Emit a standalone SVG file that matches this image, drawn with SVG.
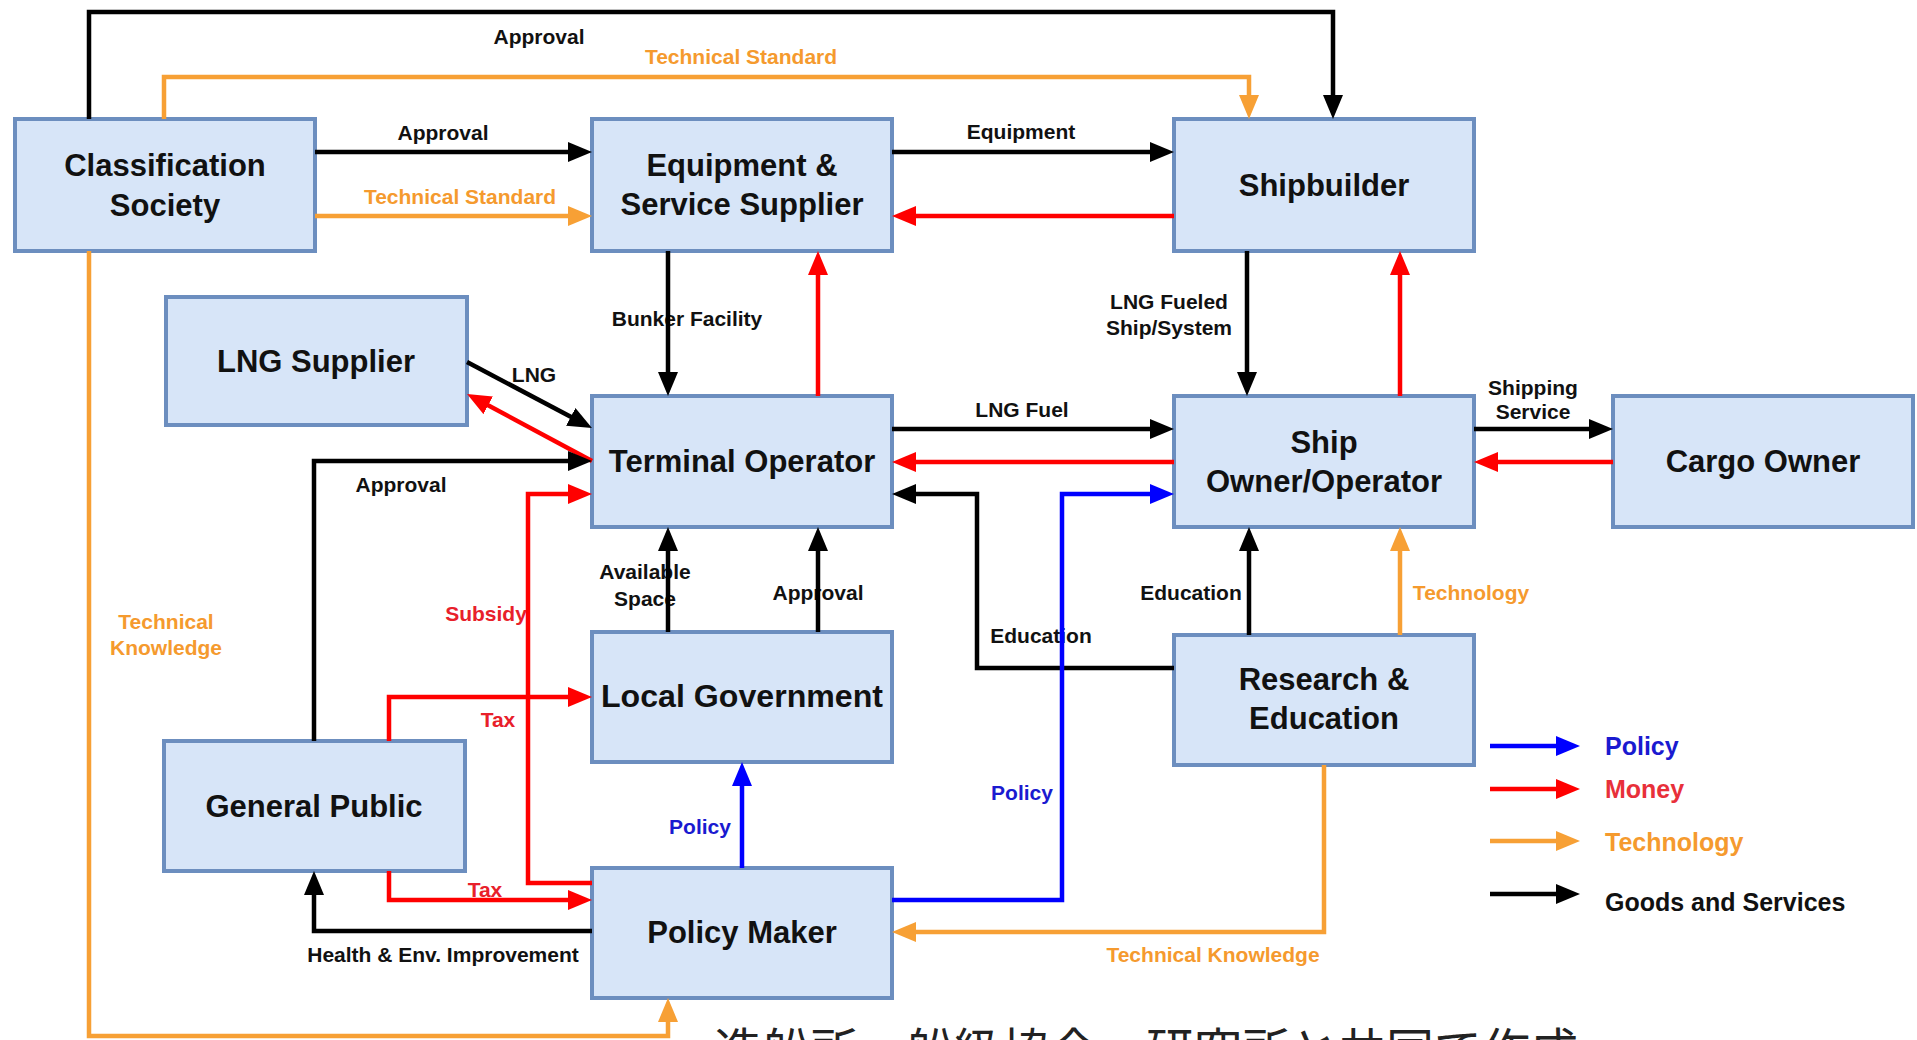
<svg xmlns="http://www.w3.org/2000/svg" width="1917" height="1040" viewBox="0 0 1917 1040">
<style>
.node rect{fill:#d7e5f8;stroke:#6c8ebf;stroke-width:4}
.nt{font-family:"Liberation Sans",Arial,sans-serif;font-weight:bold;font-size:31px;fill:#111;text-anchor:middle}
.ln{fill:none;stroke-width:4.5;stroke-linejoin:miter}
.k{stroke:#000;marker-end:url(#ak)}
.r{stroke:#ff0000;marker-end:url(#ar)}
.b{stroke:#0000ff;marker-end:url(#ab)}
.o{stroke:#f7a035;marker-end:url(#ao)}
.lb{font-family:"Liberation Sans",Arial,sans-serif;font-weight:bold;font-size:21px;text-anchor:middle}
.tk{fill:#111}.tr{fill:#e8202a}.tb{fill:#1a1ad0}.to{fill:#f59a2e}
.lg{font-family:"Liberation Sans",Arial,sans-serif;font-weight:bold;font-size:25px}
</style>
<defs>
<marker id="ak" markerUnits="userSpaceOnUse" markerWidth="24" markerHeight="20" refX="16" refY="10" orient="auto"><path d="M0,0 L24,10 L0,20 z" fill="#000"/></marker>
<marker id="ar" markerUnits="userSpaceOnUse" markerWidth="24" markerHeight="20" refX="16" refY="10" orient="auto"><path d="M0,0 L24,10 L0,20 z" fill="#ff0000"/></marker>
<marker id="ab" markerUnits="userSpaceOnUse" markerWidth="24" markerHeight="20" refX="16" refY="10" orient="auto"><path d="M0,0 L24,10 L0,20 z" fill="#0000ff"/></marker>
<marker id="ao" markerUnits="userSpaceOnUse" markerWidth="24" markerHeight="20" refX="16" refY="10" orient="auto"><path d="M0,0 L24,10 L0,20 z" fill="#f7a035"/></marker>
</defs>
<rect x="0" y="0" width="1917" height="1040" fill="#ffffff"/>

<g id="nodes">
<g id="classification-society" class="node"><rect x="15" y="119" width="300" height="132"/><text class="nt" x="165" y="176">Classification</text><text class="nt" x="165" y="216">Society</text></g>
<g id="equipment-supplier" class="node"><rect x="592" y="119" width="300" height="132"/><text class="nt" x="742" y="176">Equipment &amp;</text><text class="nt" x="742" y="215">Service Supplier</text></g>
<g id="shipbuilder" class="node"><rect x="1174" y="119" width="300" height="132"/><text class="nt" x="1324" y="196">Shipbuilder</text></g>
<g id="lng-supplier" class="node"><rect x="166" y="297" width="301" height="128"/><text class="nt" x="316" y="372">LNG Supplier</text></g>
<g id="terminal-operator" class="node"><rect x="592" y="396" width="300" height="131"/><text class="nt" x="742" y="472">Terminal Operator</text></g>
<g id="ship-owner" class="node"><rect x="1174" y="396" width="300" height="131"/><text class="nt" x="1324" y="453">Ship</text><text class="nt" x="1324" y="492">Owner/Operator</text></g>
<g id="cargo-owner" class="node"><rect x="1613" y="396" width="300" height="131"/><text class="nt" x="1763" y="472">Cargo Owner</text></g>
<g id="local-government" class="node"><rect x="592" y="632" width="300" height="130"/><text class="nt" x="742" y="707" textLength="282" lengthAdjust="spacingAndGlyphs">Local Government</text></g>
<g id="research-education" class="node"><rect x="1174" y="635" width="300" height="130"/><text class="nt" x="1324" y="690">Research &amp;</text><text class="nt" x="1324" y="729">Education</text></g>
<g id="general-public" class="node"><rect x="164" y="741" width="301" height="130"/><text class="nt" x="314" y="817">General Public</text></g>
<g id="policy-maker" class="node"><rect x="592" y="868" width="300" height="130"/><text class="nt" x="742" y="943">Policy Maker</text></g>
</g>

<g id="connectors">
<g id="edge-labels">
<text class="lb tk" x="539" y="44">Approval</text>
<text class="lb to" x="741" y="64">Technical Standard</text>
<text class="lb tk" x="443" y="140">Approval</text>
<text class="lb to" x="460" y="204">Technical Standard</text>
<text class="lb tk" x="1021" y="139">Equipment</text>
<text class="lb tk" x="687" y="326">Bunker Facility</text>
<text class="lb tk" x="1169" y="309">LNG Fueled</text>
<text class="lb tk" x="1169" y="335">Ship/System</text>
<text class="lb tk" x="534" y="382">LNG</text>
<text class="lb tk" x="1022" y="417">LNG Fuel</text>
<text class="lb tk" x="1533" y="395">Shipping</text>
<text class="lb tk" x="1533" y="419">Service</text>
<text class="lb tk" x="401" y="492">Approval</text>
<text class="lb tk" x="645" y="579">Available</text>
<text class="lb tk" x="645" y="606">Space</text>
<text class="lb tk" x="818" y="600">Approval</text>
<text class="lb tk" x="1041" y="643">Education</text>
<text class="lb tk" x="1191" y="600">Education</text>
<text class="lb to" x="1471" y="600">Technology</text>
<text class="lb tr" x="486" y="621">Subsidy</text>
<text class="lb to" x="166" y="629">Technical</text>
<text class="lb to" x="166" y="655">Knowledge</text>
<text class="lb tr" x="498" y="727">Tax</text>
<text class="lb tr" x="485" y="897">Tax</text>
<text class="lb tk" x="443" y="962">Health &amp; Env. Improvement</text>
<text class="lb tb" x="700" y="834">Policy</text>
<text class="lb tb" x="1022" y="800">Policy</text>
<text class="lb to" x="1213" y="962">Technical Knowledge</text>
</g>
<path class="ln k" d="M89,119 V12 H1333 V111"/>
<path class="ln o" d="M164,119 V77 H1249 V111"/>
<path class="ln k" d="M315,152 H584"/>
<path class="ln o" d="M315,216 H584"/>
<path class="ln k" d="M892,152 H1166"/>
<path class="ln r" d="M1174,216 H900"/>
<path class="ln k" d="M668,251 V388"/>
<path class="ln r" d="M818,396 V259"/>
<path class="ln k" d="M1247,251 V388"/>
<path class="ln r" d="M1400,396 V259"/>
<path class="ln k" d="M467,362 L584.9,424.3"/>
<path class="ln r" d="M592,461 L474.1,397.8"/>
<path class="ln k" d="M892,429 H1166"/>
<path class="ln r" d="M1174,462 H900"/>
<path class="ln k" d="M1174,668 H977 V494 H900"/>
<path class="ln b" d="M892,900 H1062 V494 H1166"/>
<path class="ln k" d="M1474,429 H1605"/>
<path class="ln r" d="M1613,462 H1482"/>
<path class="ln k" d="M1249,635 V535"/>
<path class="ln o" d="M1400,635 V535"/>
<path class="ln k" d="M668,632 V535"/>
<path class="ln k" d="M818,632 V535"/>
<path class="ln k" d="M314,741 V461 H584"/>
<path class="ln r" d="M592,883 H528 V494 H584"/>
<path class="ln r" d="M389,741 V697 H584"/>
<path class="ln r" d="M389,871 V900 H584"/>
<path class="ln k" d="M592,931 H314 V879"/>
<path class="ln b" d="M742,868 V770"/>
<path class="ln o" d="M1324,765 V932 H900"/>
<path class="ln o" d="M89,251 V1036 H668 V1006"/>
</g>

<g id="legend">
<path class="ln b" d="M1490,746 H1572"/>
<path class="ln r" d="M1490,789 H1572"/>
<path class="ln o" d="M1490,841 H1572"/>
<path class="ln k" d="M1490,894 H1572"/>
<text class="lg" x="1605" y="755" fill="#1a1ad0">Policy</text>
<text class="lg" x="1605" y="798" fill="#e8303a">Money</text>
<text class="lg" x="1605" y="851" fill="#f59a2e">Technology</text>
<text class="lg" x="1605" y="911" fill="#111">Goods and Services</text>
</g>

<text x="714" y="1068" font-family="'Noto Sans CJK JP','Noto Sans CJK SC',sans-serif" font-size="48" fill="#222">造船所、船級協会、研究所と共同で作成</text>
</svg>
